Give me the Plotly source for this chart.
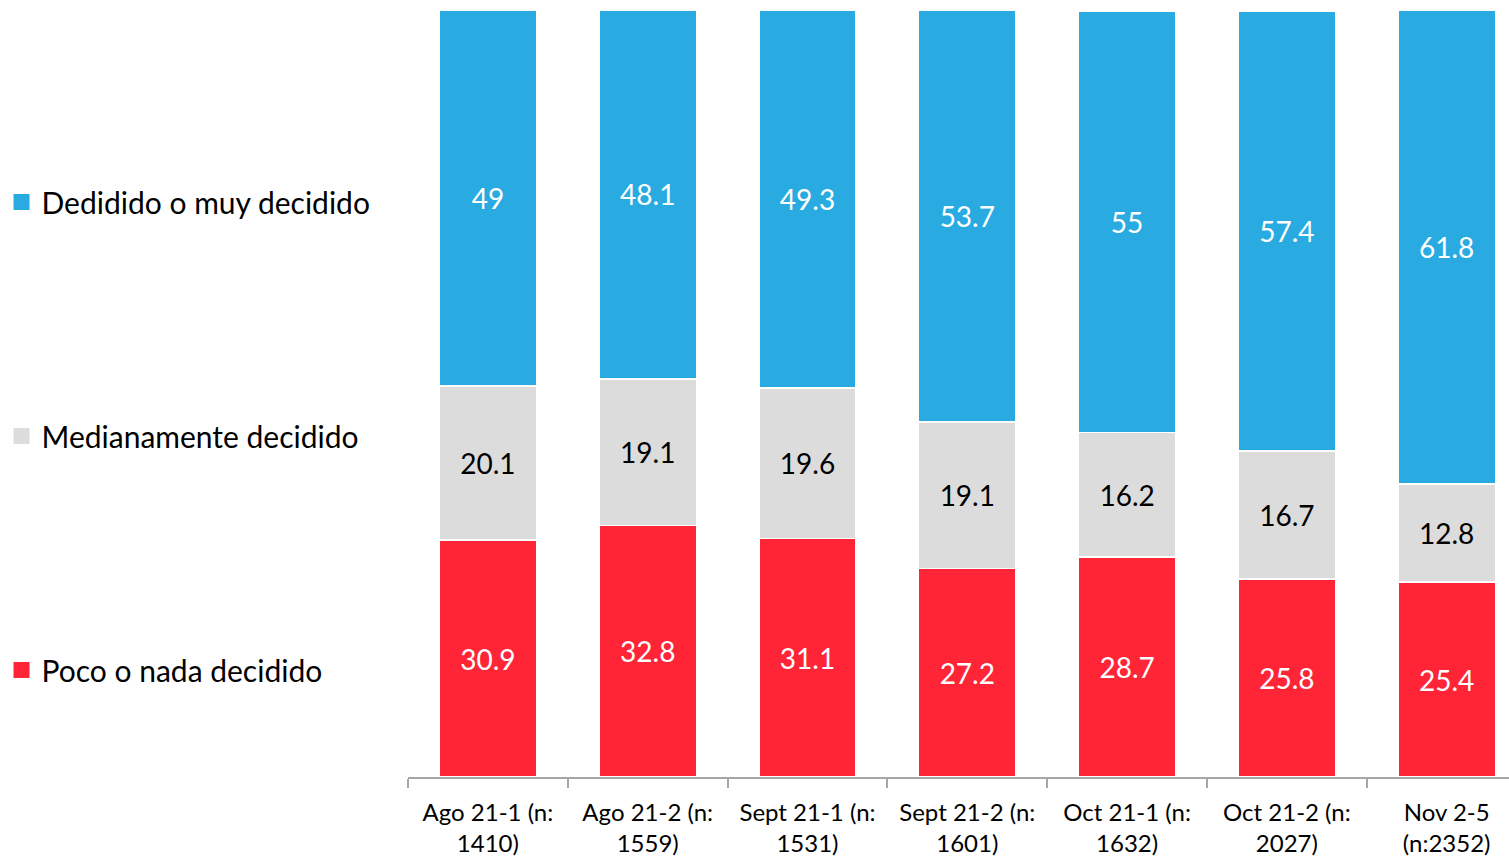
import plotly.graph_objects as go

categories = [
    "Ago 21-1 (n:<br>1410)",
    "Ago 21-2 (n:<br>1559)",
    "Sept 21-1 (n:<br>1531)",
    "Sept 21-2 (n:<br>1601)",
    "Oct 21-1 (n:<br>1632)",
    "Oct 21-2 (n:<br>2027)",
    "Nov 2-5<br>(n:2352)",
]
poco = [30.9, 32.8, 31.1, 27.2, 28.7, 25.8, 25.4]
mediana = [20.1, 19.1, 19.6, 19.1, 16.2, 16.7, 12.8]
decidido = [49, 48.1, 49.3, 53.7, 55, 57.4, 61.8]

FONT = "Lato"

series = [
    ("Poco o nada decidido", poco, "#FF2537", "white", 3),
    ("Medianamente decidido", mediana, "#DCDCDC", "black", 2),
    ("Dedidido o muy decidido", decidido, "#29ABE2", "white", 1),
]

fig = go.Figure()
for name, vals, color, tcolor, rank in series:
    fig.add_trace(
        go.Bar(
            x=categories,
            y=vals,
            name=name,
            showlegend=False,
            marker=dict(color=color, line=dict(color="white", width=1.5)),
            width=0.61,
            text=[f"{v:g}" for v in vals],
            textposition="inside",
            insidetextanchor="middle",
            textangle=0,
            constraintext="none",
            textfont=dict(color=tcolor, size=28, family=FONT),
        )
    )
    # legend-only entry with a bigger square symbol
    fig.add_trace(
        go.Scatter(
            x=[None],
            y=[None],
            mode="markers",
            name=name,
            legendgroup=name,
            legendrank=rank,
            marker=dict(symbol="square", size=19, color=color),
        )
    )

fig.update_layout(
    width=1509,
    height=857,
    barmode="stack",
    plot_bgcolor="white",
    paper_bgcolor="white",
    margin=dict(l=408, r=0, t=10, b=80, autoexpand=False),
    font=dict(family=FONT, color="black"),
    legend=dict(
        traceorder="grouped",
        tracegroupgap=192,
        itemwidth=30,
        xref="container",
        yref="container",
        x=0.001,
        y=1 - 436 / 857,
        xanchor="left",
        yanchor="middle",
        maxheight=800,
        font=dict(size=30, family=FONT),
        bgcolor="rgba(0,0,0,0)",
    ),
    xaxis=dict(
        range=[-0.5, 6.39],
        showline=True,
        linecolor="#A6A6A6",
        linewidth=1.5,
        ticks="outside",
        tickson="boundaries",
        ticklen=9,
        tickcolor="#A6A6A6",
        tickwidth=1.5,
        ticklabelstandoff=13,
        tickfont=dict(size=24, family=FONT),
        showgrid=False,
    ),
    yaxis=dict(
        range=[0, 100],
        showticklabels=False,
        showgrid=False,
        zeroline=False,
        showline=False,
    ),
)

# drop the default page margin so the figure fills the window exactly
fig.write_html(
    "out.html",
    config={"displayModeBar": False},
    post_script="document.body.style.margin='0';",
)
